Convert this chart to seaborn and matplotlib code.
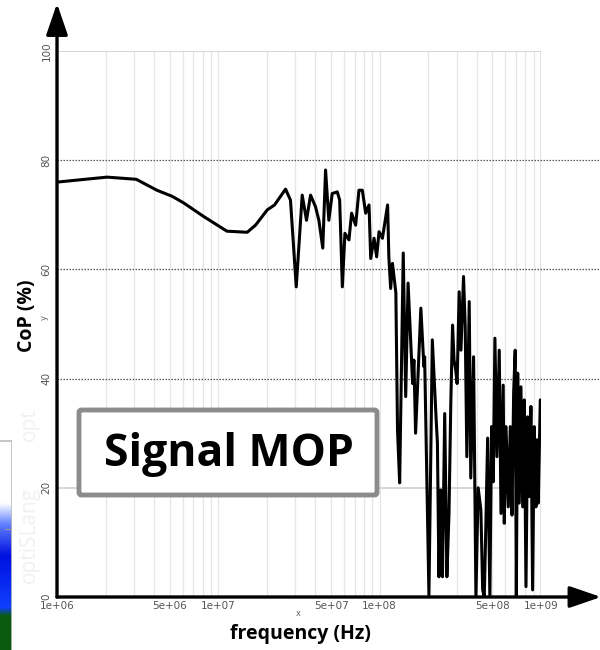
import numpy as np
import pandas as pd
import matplotlib
matplotlib.use("Agg")
import matplotlib.pyplot as plt
import seaborn as sns
from matplotlib.patches import FancyBboxPatch
from matplotlib.colors import LinearSegmentedColormap

# Frequency sweep (Hz) and coefficient of prognosis (%)
freq_hz = [
    1.01e6, 2.04e6, 3.10e6, 4.16e6, 5.16e6, 6.08e6, 8.10e6, 1.13e7, 1.51e7, 1.70e7,
    2.01e7, 2.23e7, 2.61e7, 2.80e7, 3.04e7, 3.31e7, 3.52e7, 3.73e7, 4.00e7, 4.20e7,
    4.44e7, 4.62e7, 4.84e7, 5.08e7, 5.46e7, 5.65e7, 5.87e7, 6.09e7, 6.45e7, 6.70e7,
    7.10e7, 7.44e7, 7.81e7, 8.19e7, 8.59e7, 8.80e7, 9.23e7, 9.58e7, 9.91e7, 1.04e8,
    1.12e8, 1.14e8, 1.17e8, 1.20e8, 1.23e8, 1.26e8, 1.29e8, 1.33e8, 1.40e8, 1.45e8,
    1.50e8, 1.60e8, 1.63e8, 1.67e8, 1.80e8, 1.88e8, 1.90e8, 2.02e8, 2.12e8, 2.23e8,
    2.28e8, 2.33e8, 2.39e8, 2.45e8, 2.53e8, 2.61e8, 2.69e8, 2.76e8, 2.83e8, 2.89e8,
    2.96e8, 3.02e8, 3.11e8, 3.19e8, 3.31e8, 3.39e8, 3.47e8, 3.59e8, 3.67e8, 3.82e8,
    3.95e8, 4.08e8, 4.24e8, 4.35e8, 4.45e8, 4.55e8, 4.67e8, 4.82e8, 4.94e8, 5.06e8,
    5.18e8, 5.33e8, 5.51e8, 5.65e8, 5.83e8, 5.92e8, 6.07e8, 6.27e8, 6.45e8, 6.61e8,
    6.77e8, 6.92e8, 7.03e8, 7.17e8, 7.33e8, 7.51e8, 7.70e8, 7.88e8, 8.07e8, 8.27e8,
    8.46e8, 8.66e8, 8.87e8, 9.08e8, 9.30e8, 9.44e8, 9.62e8, 9.90e8,
]
cop_pct = [
    76.0, 76.9, 76.5, 74.5, 73.4, 72.2, 69.7, 67.0, 66.8, 68.1,
    70.9, 71.8, 74.7, 72.7, 56.8, 73.6, 69.0, 73.6, 71.5, 69.0,
    63.9, 78.2, 69.0, 73.9, 74.2, 72.7, 56.8, 66.6, 65.4, 70.3,
    68.1, 74.5, 74.5, 70.3, 71.8, 62.0, 65.7, 62.3, 66.9, 65.7,
    71.8, 62.3, 56.5, 61.1, 58.4, 55.7, 30.6, 20.9, 63.0, 36.7,
    57.5, 39.1, 43.4, 30.0, 52.9, 42.2, 44.0, 0.4, 47.1, 33.6,
    28.2, 3.7, 19.6, 3.7, 33.6, 3.7, 15.3, 35.5, 49.8, 43.4,
    41.6, 39.1, 55.9, 45.2, 58.7, 49.5, 25.7, 54.1, 21.8, 44.0,
    0.0, 20.0, 15.9, 1.3, 0.0, 12.9, 29.1, 0.0, 31.2, 21.1,
    47.4, 25.7, 45.2, 15.3, 38.8, 13.5, 31.2, 16.5, 31.2, 15.0,
    37.6, 45.2, 0.0, 41.0, 17.2, 38.5, 16.5, 36.1, 1.9, 33.0,
    18.4, 34.9, 1.3, 31.2, 16.5, 28.8, 17.2, 36.1,
]

x_ticks = [1e6, 5e6, 1e7, 5e7, 1e8, 5e8, 1e9]
x_tick_labels = ["1e+06", "5e+06", "1e+07", "5e+07", "1e+08", "5e+08", "1e+09"]
y_ticks = [0, 20, 40, 60, 80, 100]
dotted_levels = [40, 60, 80]
solid_levels = [20, 100]

df = pd.DataFrame({"frequency": freq_hz, "cop": cop_pct})

sns.set_theme(style="white")
plt.rcParams["font.family"] = ["DejaVu Sans"]

fig = plt.figure(figsize=(6.0, 6.5), dpi=100)
ax = fig.add_axes([57 / 600, 1 - 597 / 650, 484 / 600, 546 / 650])
ax.set_xscale("log")
ax.set_xlim(1e6, 1e9)
ax.set_ylim(0, 100)

# faint vertical grid on every decade subdivision
for dec in [1e6, 1e7, 1e8]:
    for m in range(1, 10):
        ax.axvline(dec * m, color="#e6e6e6", lw=0.9, zorder=0)
ax.axvline(1e9, color="#dcdcdc", lw=1.2, zorder=0)

# horizontal reference lines
for lv in solid_levels:
    ax.axhline(lv, color="#d0d0d0", lw=1.2, zorder=0)
for lv in dotted_levels:
    ax.plot([0, 1.125], [lv, lv], transform=ax.get_yaxis_transform(),
            color="#555555", lw=0.9, ls=(0, (1.2, 1.2)), clip_on=False, zorder=1)

sns.lineplot(data=df, x="frequency", y="cop", ax=ax, color="black",
             linewidth=2.2, sort=False, estimator=None, zorder=3)

for s in ["top", "right", "left", "bottom"]:
    ax.spines[s].set_visible(False)

# axis lines with arrowheads
ax.annotate("", xy=(0, 1.087), xytext=(0, 0), xycoords="axes fraction",
            arrowprops=dict(arrowstyle="-|>,head_length=1.6,head_width=0.55",
                            color="black", lw=2.4, shrinkA=0, shrinkB=0),
            annotation_clip=False, zorder=5)
ax.annotate("", xy=(1.124, 0), xytext=(0, 0), xycoords="axes fraction",
            arrowprops=dict(arrowstyle="-|>,head_length=1.6,head_width=0.55",
                            color="black", lw=2.4, shrinkA=0, shrinkB=0),
            annotation_clip=False, zorder=5)

ax.set_xticks(x_ticks)
ax.set_xticklabels(x_tick_labels)
ax.xaxis.set_minor_locator(matplotlib.ticker.NullLocator())
ax.set_yticks(y_ticks)
ax.set_yticklabels([str(v) for v in y_ticks], rotation=90, va="center")
ax.tick_params(axis="both", length=0, labelsize=7.5, labelcolor="#555555")
ax.tick_params(axis="x", pad=3)
ax.tick_params(axis="y", pad=4)
ax.set_xlabel("")
ax.set_ylabel("")

# small axis tags
fig.text(298 / 600, 1 - 614 / 650, "x", fontsize=6, color="#666666",
         ha="center", va="center")
fig.text(44 / 600, 1 - 318 / 650, "y", fontsize=6, color="#666666",
         ha="center", va="center", rotation=90)

# axis titles
fig.text(300 / 600, 1 - 634 / 650, "frequency (Hz)", fontsize=14,
         fontweight="bold", family=["Open Sans", "DejaVu Sans"],
         ha="center", va="center", color="black")
fig.text(27 / 600, 1 - 316 / 650, "CoP (%)", fontsize=14, fontweight="bold",
         family=["Open Sans", "DejaVu Sans"], ha="center", va="center",
         rotation=90, color="black")

# faint watermark
fig.text(29 / 600, 1 - 535 / 650, "optiSLang", fontsize=15, color="#f1f1f1",
         rotation=90, ha="center", va="center", family=["Open Sans", "DejaVu Sans"])
fig.text(29 / 600, 1 - 425 / 650, "opt", fontsize=15, color="#f1f1f1",
         rotation=90, ha="center", va="center", family=["Open Sans", "DejaVu Sans"])

# sliver of a neighbouring contour panel
side = fig.add_axes([0, 0, 12 / 600, 210 / 650])
grad = np.linspace(0, 1, 200).reshape(-1, 1)
cmap = LinearSegmentedColormap.from_list(
    "side", [(0, "#0a5a10"), (0.16, "#0a5a10"), (0.2, "#1040ff"),
             (0.45, "#0010e0"), (0.6, "#6080ff"), (0.7, "#ffffff"), (1, "#ffffff")])
side.imshow(grad, aspect="auto", cmap=cmap, origin="lower", extent=[0, 1, 0, 1])
side.set_xlim(0, 1)
side.set_ylim(0, 1)
side.set_xticks([])
side.set_yticks([])
for s in side.spines.values():
    s.set_visible(False)
side.plot([1, 1], [0, 1], color="#bdbdbd", lw=1.2)
side.plot([0, 1], [0.995, 0.995], color="#bdbdbd", lw=1.2)
side.plot([0.45, 1], [0.575, 0.575], color="#999999", lw=0.8)

# title box
box = FancyBboxPatch((79 / 600, 1 - 495 / 650), 298 / 600, 85 / 650,
                     boxstyle="round,pad=0,rounding_size=0.004",
                     transform=fig.transFigure, facecolor="white",
                     edgecolor="#8c8c8c", linewidth=3.5, zorder=10)
fig.patches.append(box)
fig.text(229 / 600, 1 - 466 / 650, "Signal MOP", fontsize=32, fontweight="bold",
         family=["Open Sans", "DejaVu Sans"], ha="center", va="baseline",
         color="black", zorder=11)

fig.savefig("out.png", dpi=100)
